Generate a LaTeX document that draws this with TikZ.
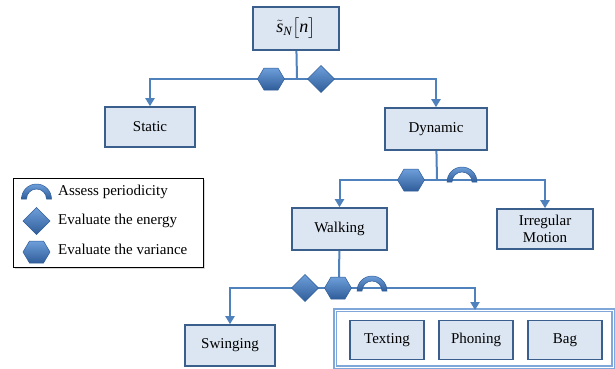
\documentclass[tikz,border=0pt]{standalone}
\usepackage{amsmath}
\usepackage{fontspec}
\setmainfont{Liberation Serif}
\usetikzlibrary{arrows.meta}

\definecolor{boxfill}{HTML}{DCE6F2}
\definecolor{boxline}{HTML}{3A5F8C}
\definecolor{wire}{HTML}{4F81BD}
\definecolor{glow}{HTML}{7FA7D9}
\definecolor{symtop}{HTML}{6E9FDA}
\definecolor{symbot}{HTML}{2F5D99}

\tikzset{
  box/.style={draw=boxline,line width=1.6pt,fill=boxfill,minimum height=40pt,
    font=\fontsize{15}{17}\selectfont,inner sep=2pt},
  wire/.style={draw=wire,line width=2pt},
  tip/.style={wire,-{Triangle[width=9pt,length=8pt]}},
  symfill/.style={top color=symtop,bottom color=symbot,draw=symbot,line width=0.5pt},
  hexsym/.pic={\path[symfill] (-13.5,0) -- (-7,11) -- (7,11) -- (13.5,0) -- (7,-11) -- (-7,-11) -- cycle;},
  diamsym/.pic={\path[symfill] (-13.5,0) -- (0,13.5) -- (13.5,0) -- (0,-13.5) -- cycle;},
  archsym/.pic={\path[symfill] (-15,0) arc[start angle=180,end angle=0,radius=15]
    -- (10,0) arc[start angle=0,end angle=180,radius=10] -- cycle;},
  legtext/.style={anchor=west,font=\fontsize{15}{17}\selectfont,inner sep=0pt}
}

\begin{document}
\begin{tikzpicture}[x=1pt,y=1pt]
\useasboundingbox (0,0) rectangle (615,-369);

% boxes
\node[box,minimum width=86pt,minimum height=43pt,font=\fontsize{18}{20}\selectfont] (sn) at (296,-28.5) {$\tilde{\textit{s}}_{\textit{N}}\big[\textit{n}\big]$};
\node[box,minimum width=90pt] (static) at (150,-127) {Static};
\node[box,minimum width=102pt,minimum height=42pt] (dynamic) at (436,-129) {Dynamic};
\node[box,minimum width=95pt,minimum height=42pt] (walking) at (339.5,-229) {Walking};
\node[box,minimum width=96pt,align=center] (irregular) at (545,-229) {Irregular\\Motion};
\node[box,minimum width=90pt,minimum height=41pt] (swinging) at (230,-345.5) {Swinging};

% group of the three phone positions
\draw[glow,line width=1.8pt,double=white,double distance=1pt] (335,-310) rectangle (613,-367.5);
\coordinate (group) at (475,-310);
\foreach \n/\x/\t in {texting/387/Texting, phoning/476/Phoning, bag/565/Bag}
  \node[box,minimum width=74pt,minimum height=39pt] (\n) at (\x,-340) {\t};

% junctions
\coordinate (j1) at (297,-79);
\coordinate (j2) at (437,-180);
\coordinate (j3) at (339,-288);

\draw[wire] (sn) -- (j1);
\draw[tip] (j1) -| (static);
\draw[tip] (j1) -| (dynamic);
\draw[wire] (dynamic) -- (j2);
\draw[tip] (j2) -| (walking);
\draw[tip] (j2) -| (irregular);
\draw[wire] (walking) -- (j3);
\draw[tip] (j3) -| (swinging);
\draw[tip] (j3) -| (group);

% symbols on the wires
\pic at (271,-79) {hexsym};
\pic at (321,-79) {diamsym};
\pic at (411,-180) {hexsym};
\pic at (462,-182) {archsym};
\pic at (305,-288) {diamsym};
\pic at (338,-288) {hexsym};
\pic at (372,-291) {archsym};

% legend
\fill[black!15] (15,-180) rectangle (205,-269);
\draw[fill=white,line width=0.6pt] (13,-178) rectangle (203,-267);
\pic at (36.5,-199) {archsym};
\pic at (36.5,-221) {diamsym};
\pic at (36.5,-252) {hexsym};
\node[legtext] (l1) at (58,-192) {Assess periodicity};
\node[legtext] (l2) at (58,-221) {Evaluate the energy};
\node[legtext] (l3) at (58,-249) {Evaluate the variance};
\end{tikzpicture}
\end{document}
